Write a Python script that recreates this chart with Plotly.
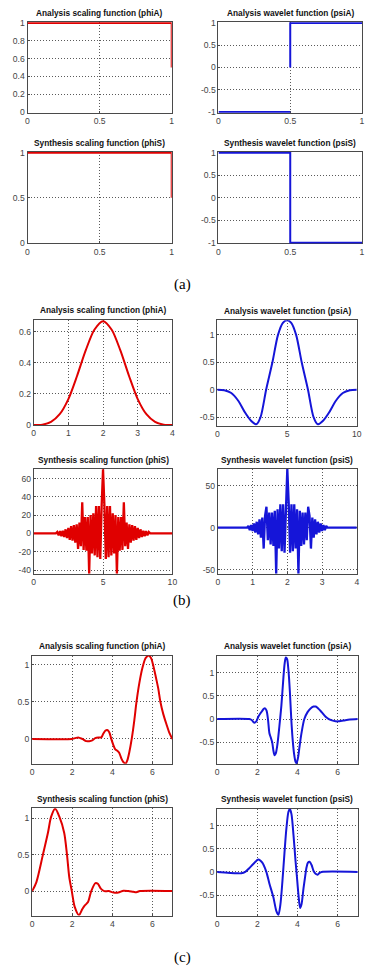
import plotly.graph_objects as go

W, H = 367, 979

# ---------------- data ----------------
# (a) Haar
a_phiA_x = [0, 1, 1]
a_phiA_y = [1, 1, 0.5]
a_psiA_x = [0, 0.5, None, 0.5, 0.5, 1]
a_psiA_y = [-1, -1, None, 0, 1, 1]
a_phiS_x = [0, 1, 1]
a_phiS_y = [1, 1, 0.5]
a_psiS_x = [0, 0.5, 0.5, 1]
a_psiS_y = [1, 1, -1, -1]

# (b)
b_phiA_x = [0, 0.25, 0.5, 0.75, 1.0, 1.25, 1.5, 1.75, 2.0, 2.25, 2.5, 2.75, 3.0, 3.25, 3.5, 3.75, 4.0]
b_phiA_y = [0, 0.003, 0.021, 0.07, 0.167, 0.315, 0.479, 0.612, 0.667, 0.612, 0.479, 0.315, 0.167, 0.07, 0.021, 0.003, 0]

b_psiA_x = [0, 0.5, 1.0, 1.5, 2.0, 2.4, 2.8, 3.1, 3.5, 3.95, 4.35, 4.7, 5.0, 5.3, 5.65, 6.05, 6.5, 6.9, 7.2, 7.6, 8.0, 8.5, 9.0, 9.5, 10]
b_psiA_y = [0, -0.01, -0.06, -0.2, -0.42, -0.56, -0.63, -0.5, 0.0, 0.5, 1.0, 1.22, 1.265, 1.22, 1.0, 0.5, 0.0, -0.5, -0.63, -0.56, -0.42, -0.2, -0.06, -0.01, 0]

b_phiS_x = [0, 1.6, 1.7, 1.8, 1.9, 2.0, 2.1, 2.2, 2.3, 2.4, 2.5, 2.6, 2.7, 2.8, 2.9, 3.0, 3.1, 3.2, 3.3, 3.4,
            3.5, 3.6, 3.7, 3.8, 3.9, 4.0, 4.1, 4.2, 4.3, 4.4, 4.5, 4.6, 4.7, 4.8, 4.9, 5.0, 5.1, 5.2, 5.3, 5.4,
            5.5, 5.6, 5.7, 5.8, 5.9, 6.0, 6.1, 6.2, 6.3, 6.4, 6.5, 6.6, 6.7, 6.8, 6.9, 7.0, 7.1, 7.2, 7.3, 7.4,
            7.5, 7.6, 7.7, 7.8, 7.9, 8.0, 8.1, 8.2, 8.3, 8.4, 10]
b_phiS_y = [0, 0, 1.5, -2, 2.5, -3, 3, -4, 4.5, -5, 6, -7, 8, -8, 9, -10, 10, -17, 12, -14,
            34, -18, 18, -19, 18, -44, 20, -22, 22, -24, 30, -26, 30, -28, 30, 70, 30, -28, 30, -26,
            30, -24, 22, -22, 20, -44, 18, -19, 18, -18, 34, -14, 12, -17, 10, -10, 9, -8, 8, -7,
            6, -5, 4.5, -4, 3, -3, 2.5, -2, 1.5, 0, 0]

b_psiS_x = [0, 0.84, 0.88, 0.92, 0.96, 1.0, 1.04, 1.08, 1.12, 1.16, 1.2, 1.24, 1.28, 1.32, 1.36, 1.4,
            1.44, 1.48, 1.52, 1.56, 1.6, 1.64, 1.68, 1.72, 1.76, 1.8, 1.84, 1.88, 1.92, 1.96, 2.0,
            2.04, 2.08, 2.12, 2.16, 2.2, 2.24, 2.28, 2.32, 2.36, 2.4, 2.44, 2.48, 2.52, 2.56, 2.6,
            2.64, 2.68, 2.72, 2.76, 2.8, 2.84, 2.88, 2.92, 2.96, 3.0, 3.04, 3.08, 3.12, 3.16, 4]
b_psiS_y = [0, 0, 2, -3, 3, -4, 5, -6, 7, -8, 10, -12, 12, -25, 14, 25,
            -15, 18, -20, 18, -22, 20, -55, 22, -25, 28, -28, 28, -30, 30, 70,
            30, -30, 28, -28, 28, -25, 22, -55, 20, -22, 18, -20, 18, -15, 25,
            14, -25, 12, -12, 10, -8, 7, -6, 5, -4, 3, -3, 2, 0, 0]

# (c)
c_phiA_x = [0, 2.0, 2.15, 2.3, 2.5, 2.7, 2.85, 3.0, 3.15, 3.3, 3.45, 3.55, 3.65, 3.75, 3.85, 3.95,
            4.05, 4.15, 4.25, 4.35, 4.45, 4.55, 4.67, 4.75, 4.85, 4.97, 5.1, 5.21, 5.35, 5.5, 5.67,
            5.84, 5.95, 6.05, 6.2, 6.3, 6.4, 6.55, 6.7, 6.85, 7.0]
c_phiA_y = [0, 0, 0.01, 0.02, 0.0, -0.03, -0.03, -0.02, 0.01, 0.02, 0.02, 0.07, 0.11, 0.12, 0.09, 0.0,
            -0.08, -0.14, -0.16, -0.19, -0.26, -0.31, -0.33, -0.29, -0.18, 0.0, 0.25, 0.5, 0.75, 0.95, 1.09,
            1.12, 1.08, 0.98, 0.8, 0.67, 0.5, 0.33, 0.2, 0.08, 0.0]

c_psiA_x = [0, 1.6, 1.72, 1.85, 1.95, 2.05, 2.15, 2.25, 2.32, 2.39, 2.46, 2.53, 2.6, 2.67, 2.74, 2.8,
            2.86, 2.92, 3.0, 3.1, 3.2, 3.3, 3.36, 3.42, 3.48, 3.55, 3.62, 3.69, 3.76, 3.83, 3.9, 3.95,
            4.02, 4.1, 4.2, 4.34, 4.5, 4.65, 4.8, 4.91, 5.05, 5.2, 5.4, 5.56, 5.8, 6.0, 6.3, 6.6, 7.0]
c_psiA_y = [0, 0, -0.02, -0.08, -0.05, 0.05, 0.12, 0.18, 0.22, 0.23, 0.18, 0.0, -0.3, -0.4, -0.5, -0.68,
            -0.78, -0.74, -0.55, -0.15, 0.3, 0.9, 1.2, 1.33, 1.3, 1.05, 0.6, 0.0, -0.45, -0.75, -0.92, -0.95,
            -0.85, -0.6, -0.3, 0.0, 0.15, 0.23, 0.27, 0.27, 0.22, 0.15, 0.05, 0.0, -0.04, -0.05, -0.03, -0.01, 0.0]

c_phiS_x = [0, 0.21, 0.54, 0.79, 0.95, 1.15, 1.36, 1.6, 1.74, 1.85, 1.98, 2.13, 2.34, 2.5, 2.62, 2.79,
            2.95, 3.16, 3.28, 3.44, 3.6, 3.82, 4.07, 4.3, 4.56, 4.8, 5.05, 5.2, 5.38, 7.0]
c_phiS_y = [0, 0.12, 0.5, 0.8, 1.02, 1.13, 1.02, 0.8, 0.5, 0.2, 0.0, -0.22, -0.33, -0.25, -0.2, -0.15,
            0.0, 0.11, 0.1, 0.03, 0.0, 0.0, -0.02, -0.02, 0.005, 0.0, -0.01, -0.015, 0.0, 0.0]

c_psiS_x = [0, 1.0, 1.2, 1.4, 1.6, 1.8, 2.05, 2.25, 2.45, 2.6, 2.8, 2.95, 3.05, 3.15, 3.25, 3.35, 3.45,
            3.55, 3.62, 3.7, 3.8, 3.9, 3.97, 4.05, 4.13, 4.2, 4.3, 4.38, 4.45, 4.52, 4.6, 4.7, 4.8,
            4.9, 5.0, 5.1, 5.2, 7.0]
c_psiS_y = [0, -0.03, -0.03, 0.0, 0.08, 0.17, 0.27, 0.2, 0.0, -0.25, -0.55, -0.85, -0.93, -0.7, -0.2, 0.4, 0.95,
            1.3, 1.36, 1.25, 0.8, 0.25, -0.1, -0.5, -0.78, -0.7, -0.35, -0.1, 0.1, 0.2, 0.22, 0.15, 0.02,
            -0.04, -0.06, -0.02, 0.0, 0.0]

titles = ["Analysis scaling function (phiA)", "Analysis wavelet function (psiA)",
          "Synthesis scaling function (phiS)", "Synthesis wavelet function (psiS)"]
group_labels = ["(a)", "(b)", "(c)"]

RED = "#e00000"
BLUE = "#1515d8"

# ---------------- panel specs (layout only) ----------------
panels = [
    dict(x=a_phiA_x, y=a_phiA_y, c=RED, t=0, box=(26, 18.3, 173, 109.7), xr=[0, 1], yr=[-0.008, 1.009],
         xt=[0, 0.5, 1], yt=[0, 0.2, 0.4, 0.6, 0.8, 1], shape="linear", w=2),
    dict(x=a_psiA_x, y=a_psiA_y, c=BLUE, t=1, box=(220.7, 18.3, 367.3, 109.7), xr=[0, 1], yr=[-1.017, 1.017],
         xt=[0, 0.5, 1], yt=[-1, -0.5, 0, 0.5, 1], shape="linear", w=2),
    dict(x=a_phiS_x, y=a_phiS_y, c=RED, t=2, box=(26, 149.3, 173, 241.7), xr=[0, 1], yr=[-0.008, 1.009],
         xt=[0, 0.5, 1], yt=[0, 0.5, 1], shape="linear", w=2),
    dict(x=a_psiS_x, y=a_psiS_y, c=BLUE, t=3, box=(220.7, 149.3, 367.3, 241.7), xr=[0, 1], yr=[-1.017, 1.017],
         xt=[0, 0.5, 1], yt=[-1, -0.5, 0, 0.5, 1], shape="linear", w=2),
    dict(x=b_phiA_x, y=b_phiA_y, c=RED, t=0, box=(32.3, 318.5, 173.7, 425), xr=[0, 4], yr=[0, 0.677],
         xt=[0, 1, 2, 3, 4], yt=[0, 0.2, 0.4, 0.6], shape="spline", w=2),
    dict(x=b_psiA_x, y=b_psiA_y, c=BLUE, t=1, box=(219.5, 319.3, 361.7, 425.7), xr=[0, 10], yr=[-0.657, 1.265],
         xt=[0, 5, 10], yt=[-0.5, 0, 0.5, 1], shape="spline", w=2),
    dict(x=b_phiS_x, y=b_phiS_y, c=RED, t=2, box=(32.3, 469.3, 173.7, 575), xr=[0, 10], yr=[-44, 70.4],
         xt=[0, 5, 10], yt=[-40, -20, 0, 20, 40, 60], shape="linear", w=2.3),
    dict(x=b_psiS_x, y=b_psiS_y, c=BLUE, t=3, box=(220, 469.3, 361.7, 575), xr=[0, 4], yr=[-55, 70],
         xt=[0, 1, 2, 3, 4], yt=[-50, 0, 50], shape="linear", w=2.3),
    dict(x=c_phiA_x, y=c_phiA_y, c=RED, t=0, box=(30.7, 657.7, 173.7, 766.7), xr=[0, 7], yr=[-0.333, 1.12],
         xt=[0, 2, 4, 6], yt=[0, 0.5, 1], shape="spline", w=2),
    dict(x=c_psiA_x, y=c_psiA_y, c=BLUE, t=1, box=(219.3, 657.7, 362.7, 767), xr=[0, 7], yr=[-0.97, 1.37],
         xt=[0, 2, 4, 6], yt=[-0.5, 0, 0.5, 1], shape="spline", w=2),
    dict(x=c_phiS_x, y=c_phiS_y, c=RED, t=2, box=(30.7, 811.7, 173.7, 920), xr=[0, 7], yr=[-0.335, 1.136],
         xt=[0, 2, 4, 6], yt=[0, 0.5, 1], shape="spline", w=2),
    dict(x=c_psiS_x, y=c_psiS_y, c=BLUE, t=3, box=(219.3, 812.3, 362.7, 920.3), xr=[0, 7], yr=[-0.95, 1.364],
         xt=[0, 2, 4, 6], yt=[-0.5, 0, 0.5, 1], shape="spline", w=2),
]
label_pos = [(183.5, 283), (183.5, 602), (183.5, 962)]


def fmt(v):
    return "%g" % v


fig = go.Figure()
layout = {}
annotations = []
tickfont = dict(family="Liberation Sans, Arial, sans-serif", size=8.6, color="#444444")
for i, p in enumerate(panels, start=1):
    sfx = "" if i == 1 else str(i)
    l, t, r, b = p["box"]
    fig.add_trace(go.Scatter(
        x=p["x"], y=p["y"], xaxis="x" + sfx, yaxis="y" + sfx, mode="lines",
        line=dict(color=p["c"], width=p["w"], shape=p["shape"], smoothing=0.8),
        hoverinfo="skip", showlegend=False))
    common = dict(showline=True, linecolor="#4a4a4a", linewidth=1, mirror=True,
                  showgrid=True, gridcolor="#5a5a5a", griddash="1px,2px", gridwidth=1,
                  zeroline=False, ticks="inside", ticklen=2, tickcolor="#4a4a4a",
                  tickfont=tickfont, tickmode="array", fixedrange=True, layer="below traces")
    layout["xaxis" + sfx] = dict(common, domain=[l / W, min(r / W, 1.0)], range=p["xr"],
                                 anchor="y" + sfx, tickvals=p["xt"],
                                 ticktext=[fmt(v) for v in p["xt"]])
    layout["yaxis" + sfx] = dict(common, domain=[1 - b / H, 1 - t / H], range=p["yr"],
                                 anchor="x" + sfx, tickvals=p["yt"],
                                 ticktext=[fmt(v) for v in p["yt"]])
    annotations.append(dict(
        text="<b>" + titles[p["t"]] + "</b>", xref="paper", yref="paper",
        x=(l + min(r, W)) / 2 / W, y=1 - (t - 9.5) / H, xanchor="center", yanchor="middle",
        showarrow=False, font=dict(family="Liberation Sans, Arial, sans-serif", size=8.3, color="#111111")))

for lab, (lx, ly) in zip(group_labels, label_pos):
    annotations.append(dict(text=lab, xref="paper", yref="paper", x=lx / W, y=1 - ly / H,
                            xanchor="center", yanchor="middle", showarrow=False,
                            font=dict(family="Liberation Serif, Times New Roman, serif", size=15, color="#000000")))

fig.update_layout(width=W, height=H, margin=dict(l=0, r=0, t=0, b=0),
                  paper_bgcolor="white", plot_bgcolor="white",
                  annotations=annotations, **layout)
fig.write_html("out.html", config={"displayModeBar": False},
               post_script="document.body.style.margin='0px';document.body.style.overflow='hidden';")
